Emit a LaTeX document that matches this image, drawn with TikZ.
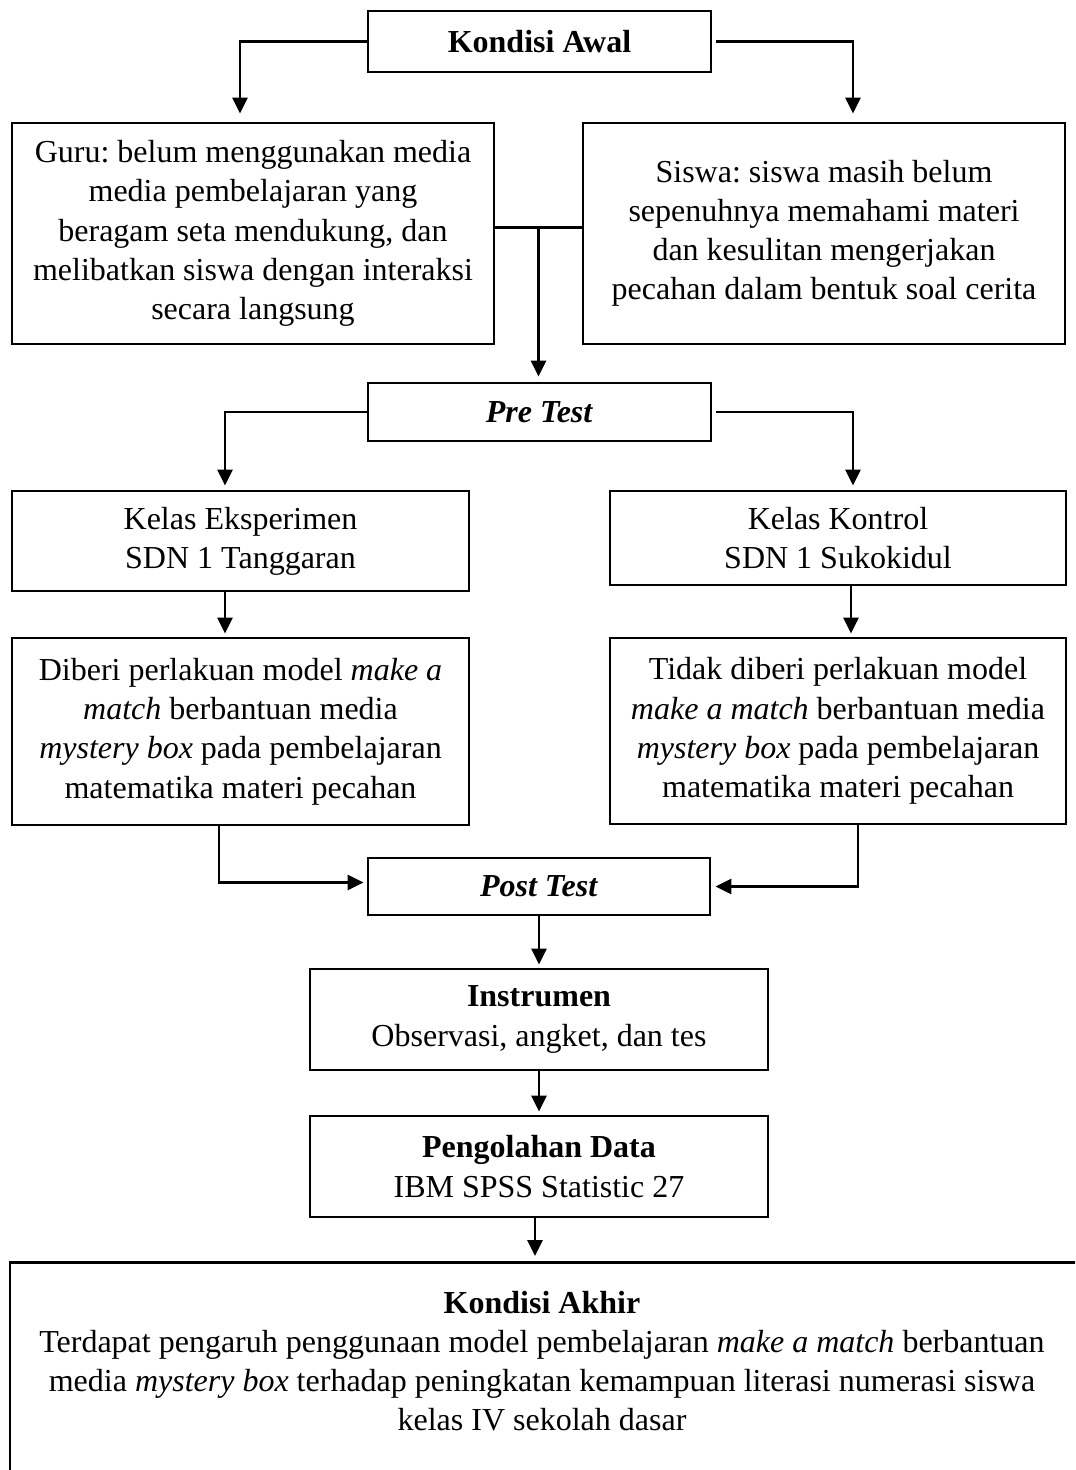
\documentclass[tikz,border=0pt]{standalone}
\usepackage{fontspec}
\setmainfont{Liberation Serif}
\frenchspacing
\usetikzlibrary{positioning}
\usetikzlibrary{calc}
\usetikzlibrary{arrows.meta}

\begin{document}
\begin{tikzpicture}[x=0.5pt, y=-0.5pt,
        box/.style={draw=black, line width=1.4pt, align=center, inner sep=0pt, font=\fontsize{16}{19.6}\selectfont},
        arrow/.style={-{Triangle[length=8pt, width=7.5pt]}, line width=1.4pt, shorten >=1.5pt},
        line/.style={-, line width=1.4pt}]
            \clip (0,0) rectangle (1075,1470);
            \node[box, minimum width=171.5pt, minimum height=30.5pt] (kondisi_awal) at (539.5,41.5) {\textbf{Kondisi Awal}};
            \node[box, minimum width=241pt, minimum height=110.5pt] (guru) at (253,233.5) {Guru: belum menggunakan media\\ media pembelajaran yang\\ beragam seta mendukung, dan\\ melibatkan siswa dengan interaksi\\ secara langsung};
            \node[box, minimum width=241pt, minimum height=110.5pt] (siswa) at (824,233.5) {Siswa: siswa masih belum\\ sepenuhnya memahami materi\\ dan kesulitan mengerjakan\\ pecahan dalam bentuk soal cerita};
            \node[box, minimum width=171.5pt, minimum height=29pt] (pre_test) at (539.5,412) {\textbf{\textit{Pre Test}}};
            \node[box, minimum width=228.5pt, minimum height=50pt] (kelas_eksp) at (240.5,541) {Kelas Eksperimen\\ SDN 1 Tanggaran};
            \node[box, minimum width=228pt, minimum height=47pt] (kelas_kontrol) at (838,538) {Kelas Kontrol\\ SDN 1 Sukokidul};
            \node[box, minimum width=228.5pt, minimum height=93.5pt] (perlakuan_eksp) at (240.5,731.5) {Diberi perlakuan model \textit{make a}\\ \textit{match} berbantuan media\\ \textit{mystery box} pada pembelajaran\\ matematika materi pecahan};
            \node[box, minimum width=228pt, minimum height=93pt] (perlakuan_kontrol) at (838,731) {Tidak diberi perlakuan model\\ \textit{make a match} berbantuan media\\ \textit{mystery box} pada pembelajaran\\ matematika materi pecahan};
            \node[box, minimum width=171pt, minimum height=28.5pt] (post_test) at (539,886.5) {\textbf{\textit{Post Test}}};
            \node[box, minimum width=229pt, minimum height=50.5pt] (instrumen) at (539,1019.5) {\textbf{Instrumen}\\ Observasi, angket, dan tes};
            \node[box, minimum width=229pt, minimum height=50.5pt] (pengolahan) at (539,1166.5) {\textbf{Pengolahan Data}\\ IBM SPSS Statistic 27};
            \node[box, anchor=north, minimum width=540pt, minimum height=115pt] (kondisi_akhir) at (550,1261) {};
            \node[box, draw=none] (kondisi_akhir_label) at (542,1361) {\textbf{Kondisi Akhir}\\ Terdapat pengaruh penggunaan model pembelajaran \textit{make a match} berbantuan\\ media \textit{mystery box} terhadap peningkatan kemampuan literasi numerasi siswa\\ kelas IV sekolah dasar};

            % kondisi awal ke guru dan siswa
            \draw[arrow, shorten >=4pt] (kondisi_awal.west) -| ([xshift=-6.5pt]guru.north);
            \draw[arrow, shorten >=4pt] ([xshift=2pt]kondisi_awal.east) -| ([xshift=14.5pt]siswa.north);
            \draw[line] ([yshift=3pt]guru.east) -- ([yshift=3pt]siswa.west);
            \coordinate (v_join) at ($([yshift=3pt]guru.east)!0.5!([yshift=3pt]siswa.west)$);
            \draw[arrow, shorten >=2.5pt] (v_join) -- (v_join |- pre_test.north);

            % pre test ke kelas
            \draw[arrow, shorten >=2pt] (pre_test.west) -| ([xshift=-7.75pt]kelas_eksp.north);
            \draw[arrow, shorten >=2pt] ([xshift=2pt]pre_test.east) -| ([xshift=7.5pt]kelas_kontrol.north);
            \draw[arrow] ([xshift=-7.75pt]kelas_eksp.south) -- ([xshift=-7.75pt]perlakuan_eksp.north);
            \draw[arrow] ([xshift=6.5pt]kelas_kontrol.south) -- ([xshift=6.5pt]perlakuan_kontrol.north);

            % perlakuan ke post test
            \draw[arrow] ([xshift=-10.75pt]perlakuan_eksp.south) |- ([yshift=2pt]post_test.west);
            \draw[arrow, shorten >=2pt] ([xshift=10pt]perlakuan_kontrol.south) |- (post_test.east);
            \draw[arrow] (post_test.south) -- (instrumen.north);
            \draw[arrow] (instrumen.south) -- (pengolahan.north);
            \draw[arrow, shorten >=2.5pt] ([xshift=-2pt]pengolahan.south) -- ([xshift=-2pt]pengolahan.south |- kondisi_akhir.north);
        \end{tikzpicture}
\end{document}
